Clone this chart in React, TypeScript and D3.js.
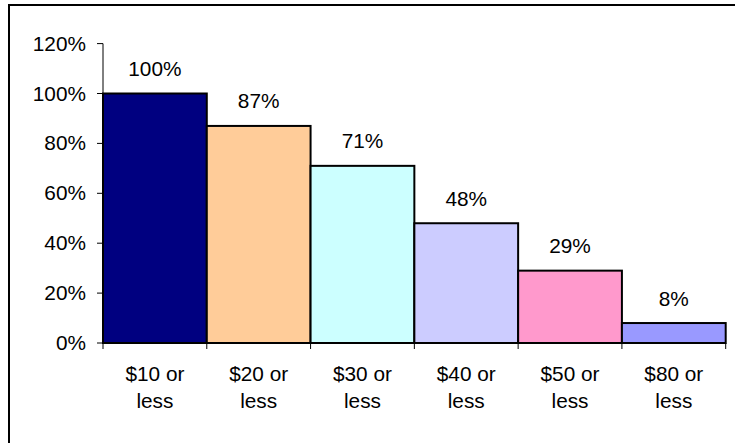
import React from "react";
import * as d3 from "d3";

const categories = ["$10 or less", "$20 or less", "$30 or less", "$40 or less", "$50 or less", "$80 or less"];
const values = [100, 87, 71, 48, 29, 8];
const colors = ["#000080", "#FFCC99", "#CCFFFF", "#CCCCFF", "#FF99CC", "#9999FF"];
const yTicks = [0, 20, 40, 60, 80, 100, 120];

const W = 735;
const H = 443;
const FONT = "Arial, 'Liberation Sans', sans-serif";
const FS = 20.8;

export default function App() {
  const x = d3.scaleBand<string>().domain(categories).range([103, 725.7]).padding(0);
  const y = d3.scaleLinear().domain([0, 120]).range([343, 43.6]);

  const T = (props: { x: number; y: number; anchor: string; children: React.ReactNode }) => (
    <text x={props.x} y={props.y} textAnchor={props.anchor as any} fontFamily={FONT} fontSize={FS} fill="#000">
      {props.children}
    </text>
  );

  return (
    <svg width={W} height={H} style={{ position: "absolute", left: 0, top: 0, background: "#fff" }}>
      <rect x={9} y={5} width={W + 20} height={H + 20} fill="#fff" stroke="#000" strokeWidth={2} />
      {/* y axis */}
      <line x1={103} x2={103} y1={y(120)} y2={y(0)} stroke="#000" strokeWidth={1} />
      {yTicks.map((t) => (
        <g key={t}>
          <line x1={97} x2={103} y1={y(t)} y2={y(t)} stroke="#000" strokeWidth={1} />
          <T x={86} y={y(t) + 7} anchor="end">{t}%</T>
        </g>
      ))}
      {/* bars */}
      {categories.map((c, i) => (
        <rect
          key={c}
          x={x(c)!}
          y={y(values[i])}
          width={x.bandwidth()}
          height={y(0) - y(values[i])}
          fill={colors[i]}
          stroke="#000"
          strokeWidth={2}
        />
      ))}
      {/* x axis */}
      <line x1={103} x2={725.7} y1={y(0)} y2={y(0)} stroke="#000" strokeWidth={2} />
      {categories.map((c) => (
        <line key={c + "t"} x1={x(c)!} x2={x(c)!} y1={y(0)} y2={y(0) + 6} stroke="#000" strokeWidth={1} />
      ))}
      <line x1={725.7} x2={725.7} y1={y(0)} y2={y(0) + 6} stroke="#000" strokeWidth={1} />
      {categories.map((c) => {
        const parts = c.split(" ");
        const l1 = parts.slice(0, 2).join(" ");
        const l2 = parts.slice(2).join(" ");
        const cx = x(c)! + x.bandwidth() / 2;
        return (
          <g key={c + "l"}>
            <T x={cx} y={381} anchor="middle">{l1}</T>
            <T x={cx} y={407.5} anchor="middle">{l2}</T>
          </g>
        );
      })}
      {/* value labels */}
      {categories.map((c, i) => (
        <T key={c + "v"} x={x(c)! + x.bandwidth() / 2} y={y(values[i]) - 17.5} anchor="middle">
          {values[i]}%
        </T>
      ))}
    </svg>
  );
}
